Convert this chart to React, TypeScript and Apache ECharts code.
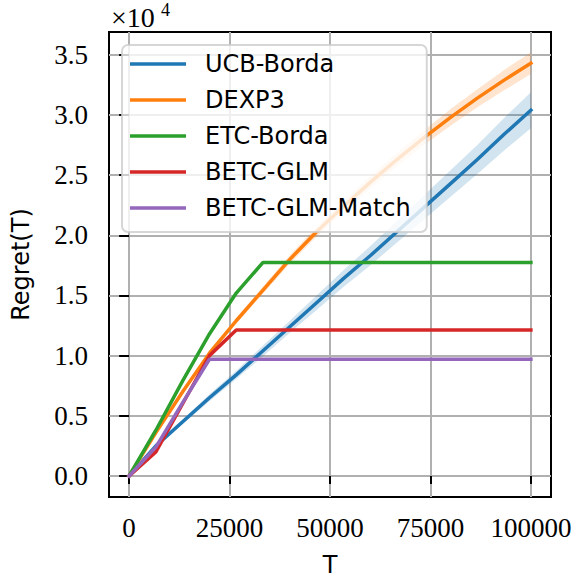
import React, { useEffect, useRef } from 'react';
import * as echarts from 'echarts';

const T = [0, 6667, 13333, 20000, 26667, 33333, 40000, 46667, 53333, 60000, 66667, 73333, 80000, 86667, 93333, 100000];
const ucbBorda = [0, 0.25, 0.45, 0.65, 0.84, 1.04, 1.24, 1.44, 1.64, 1.83, 2.03, 2.23, 2.43, 2.63, 2.84, 3.04];
const ucbSpread = [0, 0.01, 0.02, 0.03, 0.035, 0.045, 0.05, 0.06, 0.07, 0.08, 0.09, 0.1, 0.11, 0.12, 0.135, 0.15];
const dexp3 = [0, 0.36, 0.7, 1.02, 1.29, 1.545, 1.8, 2.03, 2.24, 2.44, 2.63, 2.81, 2.98, 3.14, 3.29, 3.43];
const dexp3Spread = [0, 0.01, 0.015, 0.02, 0.025, 0.03, 0.035, 0.04, 0.045, 0.05, 0.055, 0.06, 0.07, 0.075, 0.085, 0.09];
const etcBorda = [0, 0.38, 0.79, 1.18, 1.52, 1.775, 1.775, 1.775, 1.775, 1.775, 1.775, 1.775, 1.775, 1.775, 1.775, 1.775];
const betcGlm = [0, 0.2, 0.6, 1.0, 1.213, 1.213, 1.213, 1.213, 1.213, 1.213, 1.213, 1.213, 1.213, 1.213, 1.213, 1.213];
const betcGlmMatch = [0, 0.24, 0.61, 0.97, 0.97, 0.97, 0.97, 0.97, 0.97, 0.97, 0.97, 0.97, 0.97, 0.97, 0.97, 0.97];

const xTicks = [0, 25000, 50000, 75000, 100000];
const yTicks = [0, 0.5, 1, 1.5, 2, 2.5, 3, 3.5];
const seriesNames = ['UCB-Borda', 'DEXP3', 'ETC-Borda', 'BETC-GLM', 'BETC-GLM-Match'];
const colors = ['#1f77b4', '#ff7f0e', '#2ca02c', '#d62728', '#9467bd'];
const bandColors = ['rgba(31,119,180,0.2)', 'rgba(255,127,14,0.2)'];

const SANS = 'DejaVu Sans';
const SERIF = 'Liberation Serif';

function pairs(ys: number[]) {
  return T.map((t, i) => [t, ys[i]]);
}

function bandSeries(mean: number[], spread: number[], key: string, color: string) {
  return {
    type: 'custom',
    name: key,
    silent: true,
    clip: true,
    z: 1,
    data: [[T[0], mean[0]]],
    renderItem: (params: any, api: any) => {
      const upper = T.map((t, i) => api.coord([t, mean[i] + spread[i]]));
      const lower = T.map((t, i) => api.coord([t, mean[i] - spread[i]])).reverse();
      return {
        type: 'polygon',
        shape: { points: upper.concat(lower) },
        style: { fill: color, stroke: 'none' },
      };
    },
  };
}

export default function App() {
  const ref = useRef<HTMLDivElement>(null);
  useEffect(() => {
    if (!ref.current) return;
    const chart = echarts.init(ref.current, undefined, { renderer: 'svg' });
    const mainData = [ucbBorda, dexp3, etcBorda, betcGlm, betcGlmMatch];
    const lines = mainData.map((d, i) => ({
      type: 'line',
      name: seriesNames[i],
      data: pairs(d),
      symbol: 'none',
      color: colors[i],
      lineStyle: { color: colors[i], width: 3.5, cap: 'square' },
      itemStyle: { color: colors[i] },
      z: 3,
    }));
    chart.setOption({
      animation: false,
      grid: {
        left: 109,
        right: 26,
        top: 32,
        bottom: 84,
        show: true,
        borderColor: '#000',
        borderWidth: 2,
        backgroundColor: 'transparent',
        containLabel: false,
        outerBoundsMode: 'none',
      },
      legend: {
        data: seriesNames,
        orient: 'vertical',
        left: 122,
        top: 45,
        padding: [7, 16, 12, 8],
        itemGap: 12,
        itemWidth: 56,
        itemHeight: 3.5,
        icon: 'rect',
        backgroundColor: 'rgba(255,255,255,0.8)',
        borderColor: 'rgba(204,204,204,0.8)',
        borderWidth: 2,
        borderRadius: 6,
        selectedMode: false,
        textStyle: {
          fontFamily: SANS,
          fontSize: 24,
          lineHeight: 24,
          color: '#000',
          padding: [0, 0, 0, 14],
        },
        z: 10,
      },
      xAxis: {
        type: 'value',
        min: -5000,
        max: 105000,
        name: 'T',
        nameLocation: 'middle',
        nameGap: 56,
        nameTextStyle: { fontFamily: SANS, fontSize: 24, color: '#000' },
        axisLine: { show: false },
        axisTick: { show: true, customValues: xTicks, length: 8, lineStyle: { color: '#000', width: 2 } },
        axisLabel: {
          customValues: xTicks,
          fontFamily: SERIF,
          fontSize: 27,
          color: '#000',
          margin: 31,
          verticalAlign: 'middle',
          formatter: (v: number) => String(v),
        },
        splitLine: { show: true, lineStyle: { color: '#b0b0b0', width: 2 } },
      },
      yAxis: {
        type: 'value',
        min: -0.175,
        max: 3.69,
        name: 'Regret(T)',
        nameLocation: 'middle',
        nameRotate: 90,
        nameGap: 76,
        nameTextStyle: { fontFamily: SANS, fontSize: 24, color: '#000' },
        axisLine: { show: false },
        axisTick: { show: true, customValues: yTicks, length: 10, lineStyle: { color: '#000', width: 2 } },
        axisLabel: {
          customValues: yTicks,
          fontFamily: SERIF,
          fontSize: 27,
          color: '#000',
          margin: 21,
          formatter: (v: number) => v.toFixed(1),
        },
        splitLine: { show: true, lineStyle: { color: '#b0b0b0', width: 2 } },
      },
      graphic: [
        {
          type: 'text',
          x: 111,
          y: 17,
          style: {
            text: '×10',
            fontFamily: SERIF,
            fontSize: 28,
            fill: '#000',
            align: 'left',
            verticalAlign: 'middle',
          },
        },
        {
          type: 'text',
          x: 161,
          y: 10,
          style: {
            text: '4',
            fontFamily: SERIF,
            fontSize: 18,
            fill: '#000',
            align: 'left',
            verticalAlign: 'middle',
          },
        },
      ],
      series: [
        bandSeries(ucbBorda, ucbSpread, 'ucbBand', bandColors[0]),
        bandSeries(dexp3, dexp3Spread, 'dexpBand', bandColors[1]),
        ...lines,
      ],
    });
    return () => chart.dispose();
  }, []);
  return (
    <div
      ref={ref}
      style={{ position: 'fixed', left: 0, top: 0, width: 577, height: 581, background: '#fff' }}
    />
  );
}
